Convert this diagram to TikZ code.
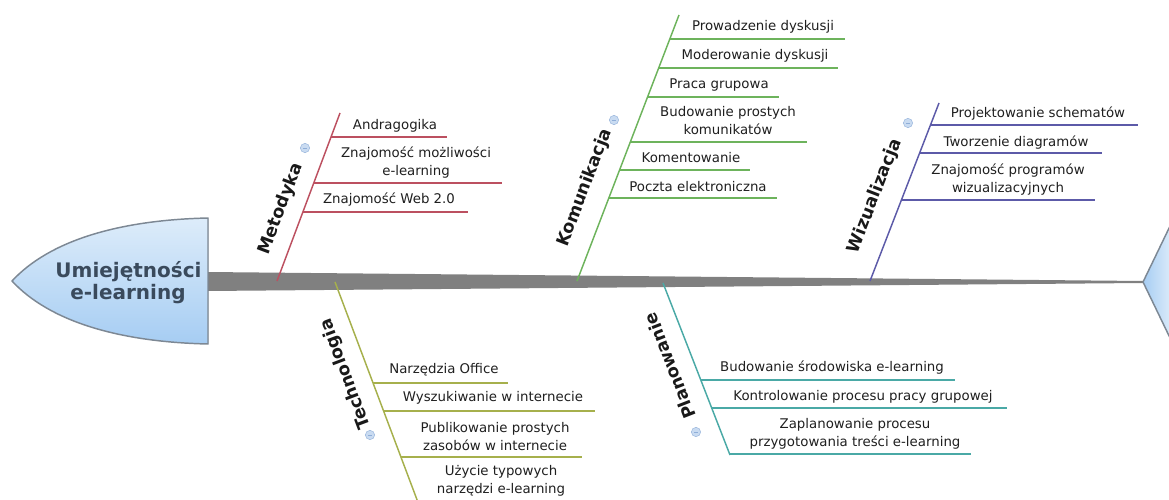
\documentclass[tikz,border=0pt]{standalone}
\usepackage{fontspec}
\setmainfont{DejaVu Sans}
\definecolor{headtop}{HTML}{DDECFA}
\definecolor{headbot}{HTML}{A6CDF3}
\definecolor{headedge}{HTML}{7D8894}
\definecolor{headtext}{HTML}{3A4A5C}
\definecolor{spinegray}{HTML}{808080}
\definecolor{metred}{HTML}{BC5060}
\definecolor{komgreen}{HTML}{6DB35C}
\definecolor{wizblue}{HTML}{5C5AA8}
\definecolor{techolive}{HTML}{A6B04C}
\definecolor{planteal}{HTML}{4AA9A6}
\definecolor{iconfill}{HTML}{C9DBF1}
\definecolor{iconedge}{HTML}{8FAED8}
\begin{document}
\begin{tikzpicture}[x=0.75pt,y=-0.75pt,
  item/.style={font=\fontsize{10}{13.5}\selectfont, text=black!88, align=center, inner sep=0pt},
  catlabel/.style={font=\fontsize{13}{15}\selectfont\bfseries, text=black!90, inner sep=0pt},
  headlabel/.style={font=\fontsize{15}{18}\selectfont\bfseries, text=headtext, inner sep=0pt, anchor=base},
  bone/.style={line width=1.1pt},
  twig/.style={line width=1.1pt},
  toggle/.style={circle, minimum size=7pt, inner sep=0pt, fill=iconfill, draw=iconedge, line width=0.3pt,
    path picture={\draw[iconedge, line width=0.5pt]
      ([xshift=-1.6pt]path picture bounding box.center) -- ([xshift=1.6pt]path picture bounding box.center);}},
]
\useasboundingbox (0,0) rectangle (1169,499);
\clip (0,0) rectangle (1169,499);

% tapering backbone
\fill[spinegray] (207,272) -- (1143,281) -- (1143,283) -- (207,291) -- cycle;

% tail on the right
\coordinate (tailtip) at (1143,282);
\coordinate (tailup) at (1172,222);
\coordinate (taildown) at (1172,342);
\fill[left color=headbot, right color=headtop] (tailtip) -- (tailup) -- (taildown) -- cycle;
\draw[headedge, line width=1.1pt, line join=round] (tailup) -- (tailtip) -- (taildown);

% head on the left
\fill[top color=headtop, bottom color=headbot]
  (208,218) .. controls (120,220) and (50,240) .. (12,281)
  .. controls (50,322) and (120,342) .. (208,344) -- cycle;
\draw[headedge, line width=1.1pt, line join=round]
  (208,218) .. controls (120,220) and (50,240) .. (12,281)
  .. controls (50,322) and (120,342) .. (208,344) -- cycle;
\node[headlabel] (head1) at (128.5,277) {Umiejętności};
\node[headlabel] (head2) at (128,299) {e-learning};

% ---------- Metodyka ----------
\coordinate (m0) at (277,281);
\coordinate (m1) at (340,113);
\draw[bone, metred] (m0) -- (m1);
\coordinate (ma) at (331,137);  \coordinate (mae) at (447,137);
\coordinate (mb) at (314,183);  \coordinate (mbe) at (502,183);
\coordinate (mc) at (303,212);  \coordinate (mce) at (468,212);
\draw[twig, metred] (ma) -- (mae);
\draw[twig, metred] (mb) -- (mbe);
\draw[twig, metred] (mc) -- (mce);
\node[item] (mat) at (395,126) {Andragogika};
\node[item] (mbt) at (416,163) {Znajomość możliwości\\e-learning};
\node[item] (mct) at (389,200) {Znajomość Web 2.0};
\node[catlabel, rotate=69.4] (mlab) at (281,209) {Metodyka};
\node[toggle] (mtog) at (305,148) {};

% ---------- Komunikacja ----------
\coordinate (k0) at (577,281);
\coordinate (k1) at (679,15);
\draw[bone, komgreen] (k0) -- (k1);
\coordinate (ka) at (669.8,39);  \coordinate (kae) at (845,39);
\coordinate (kb) at (658.7,68);  \coordinate (kbe) at (838,68);
\coordinate (kc) at (647.6,97);  \coordinate (kce) at (779,97);
\coordinate (kd) at (630.3,142); \coordinate (kde) at (807,142);
\coordinate (ke) at (619.6,170); \coordinate (kee) at (750,170);
\coordinate (kf) at (608.8,198); \coordinate (kfe) at (777,198);
\draw[twig, komgreen] (ka) -- (kae);
\draw[twig, komgreen] (kb) -- (kbe);
\draw[twig, komgreen] (kc) -- (kce);
\draw[twig, komgreen] (kd) -- (kde);
\draw[twig, komgreen] (ke) -- (kee);
\draw[twig, komgreen] (kf) -- (kfe);
\node[item] (kat) at (763,27) {Prowadzenie dyskusji};
\node[item] (kbt) at (755,56) {Moderowanie dyskusji};
\node[item] (kct) at (719,85) {Praca grupowa};
\node[item] (kdt) at (728,121) {Budowanie prostych\\komunikatów};
\node[item] (ket) at (691,158) {Komentowanie};
\node[item] (kft) at (698,187) {Poczta elektroniczna};
\node[catlabel, rotate=69.0] (klab) at (585,188) {Komunikacja};
\node[toggle] (ktog) at (614,120) {};

% ---------- Wizualizacja ----------
\coordinate (w0) at (870,281);
\coordinate (w1) at (939,103);
\draw[bone, wizblue] (w0) -- (w1);
\coordinate (wa) at (930.5,125); \coordinate (wae) at (1138,125);
\coordinate (wb) at (919.6,153); \coordinate (wbe) at (1102,153);
\coordinate (wc) at (901.4,200); \coordinate (wce) at (1095,200);
\draw[twig, wizblue] (wa) -- (wae);
\draw[twig, wizblue] (wb) -- (wbe);
\draw[twig, wizblue] (wc) -- (wce);
\node[item] (wat) at (1038,114) {Projektowanie schematów};
\node[item] (wbt) at (1016,143) {Tworzenie diagramów};
\node[item] (wct) at (1008,180) {Znajomość programów\\wizualizacyjnych};
\node[catlabel, rotate=68.8] (wlab) at (875,196) {Wizualizacja};
\node[toggle] (wtog) at (908,123) {};

% ---------- Technologia ----------
\coordinate (t0) at (335,282);
\coordinate (t1) at (419,505);
\draw[bone, techolive] (t0) -- (t1);
\coordinate (ta) at (373,383);   \coordinate (tae) at (508,383);
\coordinate (tb) at (383.5,411); \coordinate (tbe) at (595,411);
\coordinate (tc) at (400.8,457); \coordinate (tce) at (582,457);
\draw[twig, techolive] (ta) -- (tae);
\draw[twig, techolive] (tb) -- (tbe);
\draw[twig, techolive] (tc) -- (tce);
\node[item] (tat) at (444,370) {Narzędzia Office};
\node[item] (tbt) at (493,398) {Wyszukiwanie w internecie};
\node[item] (tct) at (495,437) {Publikowanie prostych\\zasobów w internecie};
\node[item] (tdt) at (501,481) {Użycie typowych\\narzędzi e-learning};
\node[catlabel, rotate=110.6] (tlab) at (346,374) {Technologia};
\node[toggle] (ttog) at (370,435) {};

% ---------- Planowanie ----------
\coordinate (p0) at (663,283);
\coordinate (p1) at (730,455);
\draw[bone, planteal] (p0) -- (p1);
\coordinate (pa) at (700.8,380); \coordinate (pae) at (955,380);
\coordinate (pb) at (711.7,408); \coordinate (pbe) at (1007,408);
\coordinate (pc) at (729.6,454); \coordinate (pce) at (971,454);
\draw[twig, planteal] (pa) -- (pae);
\draw[twig, planteal] (pb) -- (pbe);
\draw[twig, planteal] (pc) -- (pce);
\node[item] (pat) at (832,368) {Budowanie środowiska e-learning};
\node[item] (pbt) at (863,397) {Kontrolowanie procesu pracy grupowej};
\node[item] (pct) at (855,434) {Zaplanowanie procesu\\przygotowania treści e-learning};
\node[catlabel, rotate=111.3] (plab) at (670,366) {Planowanie};
\node[toggle] (ptog) at (696,432) {};
\end{tikzpicture}
\end{document}
